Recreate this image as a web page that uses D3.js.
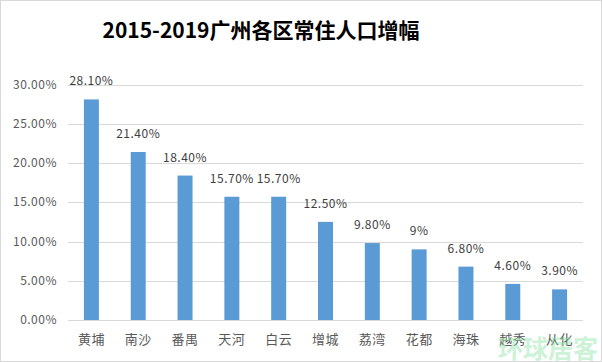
<!DOCTYPE html>
<html>
<head>
<meta charset="utf-8">
<script src="https://cdn.jsdelivr.net/npm/d3@7"></script>
<style>
  body { margin: 0; background: #fff; }
  svg { display: block; font-family: "Noto Sans CJK SC", "Noto Sans", sans-serif; }
</style>
</head>
<body>
<svg id="chart" width="602" height="362"></svg>
<script>
const districts = ["黄埔", "南沙", "番禺", "天河", "白云", "增城", "荔湾", "花都", "海珠", "越秀", "从化"];
const growth = [0.281, 0.214, 0.184, 0.157, 0.157, 0.125, 0.098, 0.09, 0.068, 0.046, 0.039];
const valueLabels = ["28.10%", "21.40%", "18.40%", "15.70%", "15.70%", "12.50%", "9.80%", "9%", "6.80%", "4.60%", "3.90%"];
const yTicks = [0, 0.05, 0.10, 0.15, 0.20, 0.25, 0.30];

const svg = d3.select("#chart");
const width = 602, height = 362;

svg.append("rect")
  .attr("x", 0.5).attr("y", 0.5)
  .attr("width", width - 1).attr("height", height - 1)
  .attr("fill", "#fff").attr("stroke", "#d9d9d9");

svg.append("text")
  .attr("x", 261).attr("y", 38)
  .attr("text-anchor", "middle")
  .attr("font-size", 21).attr("font-weight", "bold")
  .attr("fill", "#000")
  .text("2015-2019广州各区常住人口增幅");

const x = d3.scaleBand().domain(districts).range([68, 583]).paddingInner(0.68).paddingOuter(0.34);
const y = d3.scaleLinear().domain([0, 0.30]).range([320, 84.5]);

// gridlines
svg.append("g")
  .selectAll("line")
  .data(yTicks)
  .join("line")
  .attr("x1", 68).attr("x2", 583)
  .attr("y1", d => Math.round(y(d)) + 0.5)
  .attr("y2", d => Math.round(y(d)) + 0.5)
  .attr("stroke", "#d9d9d9");

svg.append("g")
  .selectAll("text")
  .data(yTicks)
  .join("text")
  .attr("x", 57)
  .attr("y", d => y(d) + 4)
  .attr("text-anchor", "end")
  .attr("font-size", 12)
  .attr("letter-spacing", 0.5)
  .attr("fill", "#595959")
  .text(d => d3.format(".2%")(d));

svg.append("g")
  .selectAll("rect")
  .data(growth)
  .join("rect")
  .attr("x", (d, i) => x(districts[i]))
  .attr("width", x.bandwidth())
  .attr("y", d => y(d))
  .attr("height", d => y(0) - y(d))
  .attr("fill", "#5b9bd5");

svg.append("g")
  .selectAll("text")
  .data(growth)
  .join("text")
  .attr("x", (d, i) => x(districts[i]) + x.bandwidth() / 2)
  .attr("y", d => y(d) - 14)
  .attr("text-anchor", "middle")
  .attr("font-size", 12)
  .attr("letter-spacing", 0.5)
  .attr("fill", "#404040")
  .text((d, i) => valueLabels[i]);

svg.append("g")
  .selectAll("text")
  .data(districts)
  .join("text")
  .attr("x", d => x(d) + x.bandwidth() / 2)
  .attr("y", 344)
  .attr("text-anchor", "middle")
  .attr("font-size", 13)
  .attr("letter-spacing", 0.5)
  .attr("fill", "#595959")
  .text(d => d);

// watermark
svg.append("text")
  .attr("x", 598).attr("y", 358)
  .attr("text-anchor", "end")
  .attr("font-size", 25).attr("font-weight", "bold")
  .attr("fill", "#8fe3a8").attr("opacity", 0.45)
  .text("环球居客");
</script>
</body>
</html>
